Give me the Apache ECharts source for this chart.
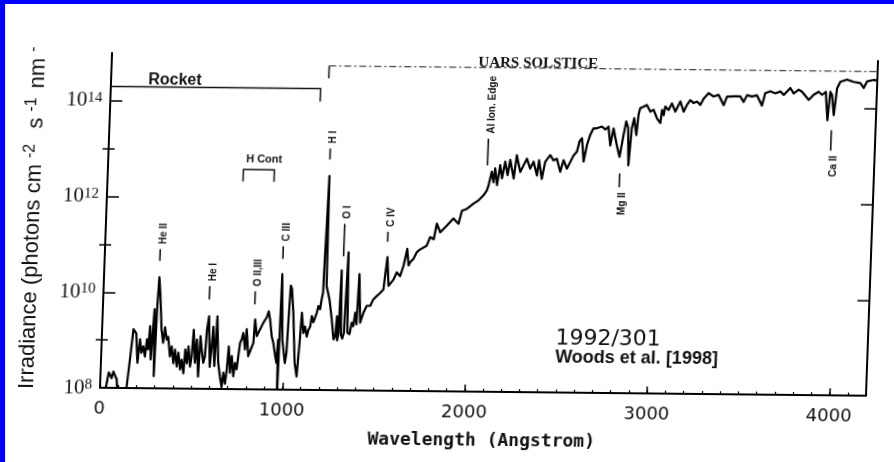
<!DOCTYPE html>
<html>
<head>
<meta charset="utf-8">
<script src="https://cdn.jsdelivr.net/npm/echarts@6/dist/echarts.min.js"></script>
<style>
  html, body { margin: 0; padding: 0; background: #fff; }
  #frame { position: relative; width: 894px; height: 462px; overflow: hidden; background: #fff; }
  /* the printed figure sits slightly skewed on the page */
  #chart { position: absolute; left: 0; top: 0; width: 894px; height: 462px;
           transform-origin: 100px 388px; transform: matrix(1, 0.0104, -0.036, 1, 0, 0); }
  .edge { position: absolute; background: #0000ff; z-index: 5; }
</style>
</head>
<body>
<div id="frame">
  <div id="chart"></div>
  <div class="edge" style="left:0;top:0;width:894px;height:4px"></div>
  <div class="edge" style="left:0;top:0;width:5px;height:462px"></div>
</div>
<script>
// Solar spectral irradiance, day 1992/301 (Angstrom, photons cm^-2 s^-1 nm^-1)
const wavelength = [
  20, 35, 45, 55, 62, 70, 80, 90, 98, 140,
  146, 160, 172, 188, 200, 210, 220, 229, 240, 248,
  256, 263, 272, 284, 292, 298, 304, 312, 326, 337,
  345, 356, 364, 377, 385, 397, 404, 416, 423, 435,
  442, 454, 460, 471, 477, 489, 496, 503, 515, 522,
  535, 541, 550, 561, 569, 575, 584, 597, 604, 610,
  622, 630, 643, 655, 666, 673, 684, 691, 698, 709,
  716, 728, 735, 745, 752, 759, 767, 775, 787, 793,
  806, 832, 837, 849, 866, 883, 900, 910, 919, 931,
  941, 954, 962, 967, 971, 977, 990, 1008, 1015, 1021,
  1026, 1033, 1045, 1062, 1075, 1085, 1092, 1104, 1112, 1123,
  1131, 1140, 1147, 1157, 1174, 1181, 1191, 1198, 1204, 1207,
  1211, 1216, 1222, 1240, 1257, 1270, 1279, 1285, 1290, 1296,
  1302, 1310, 1318, 1326, 1336, 1345, 1357, 1367, 1376, 1384,
  1393, 1400, 1413, 1429, 1446, 1465, 1481, 1499, 1517, 1534,
  1550, 1561, 1570, 1587, 1604, 1623, 1640, 1657, 1667, 1675,
  1693, 1710, 1725, 1763, 1780, 1800, 1814, 1834, 1869, 1904,
  1933, 1949, 1976, 2011, 2038, 2064, 2081, 2089, 2105, 2116,
  2123, 2136, 2150, 2162, 2177, 2192, 2204, 2226, 2239, 2261,
  2278, 2295, 2315, 2332, 2353, 2362, 2380, 2396, 2422, 2441,
  2459, 2480, 2496, 2516, 2533, 2550, 2568, 2580, 2593, 2606,
  2621, 2638, 2654, 2672, 2700, 2719, 2736, 2749, 2764, 2785,
  2802, 2820, 2832, 2844, 2852, 2864, 2875, 2890, 2898, 2906,
  2924, 2942, 2962, 2980, 3000, 3019, 3026, 3036, 3043, 3062,
  3079, 3099, 3125, 3145, 3162, 3179, 3198, 3216, 3235, 3252,
  3278, 3306, 3333, 3363, 3379, 3416, 3452, 3471, 3489, 3516,
  3543, 3573, 3588, 3616, 3644, 3671, 3690, 3725, 3744, 3771,
  3789, 3828, 3854, 3881, 3900, 3920, 3934, 3945, 3955, 3968,
  3981, 3998, 4034, 4071, 4108, 4127, 4144, 4180, 4200
];
const irradiance = [
  6e7, 1.2e8, 2.1e8, 2.2e8, 1.6e8, 2.2e8, 2.0e8, 1.5e8, 6e7, 6e7,
  1.1e8, 4.6e8, 1.7e9, 1.4e9, 3.4e8, 1.05e9, 5.5e8, 7.5e8, 4.6e8, 1.05e9,
  6.5e8, 2.0e9, 4.0e8, 4.5e9, 1.8e8, 5.2e9, 2.1e10, 1.0e10, 1.7e9, 9.0e8,
  1.9e9, 1.05e9, 1.2e9, 4.7e8, 7.6e8, 3.4e8, 6.5e8, 2.9e8, 5.6e8, 2.5e8,
  4.0e8, 2.1e8, 6.6e8, 3.4e8, 7.7e8, 2.9e8, 4.7e8, 1.7e9, 3.5e8, 1.07e9,
  1.8e8, 1.26e9, 6.6e8, 3.5e8, 4.8e8, 1.7e9, 3.3e9, 2.9e8, 7.8e8, 2.0e9,
  3.0e8, 3.3e9, 3.5e8, 1.8e8, 1.1e8, 2.2e8, 1.3e8, 2.5e8, 7.8e8, 2.2e8,
  4.9e8, 1.85e8, 3.5e8, 2.6e8, 4.9e8, 9.3e8, 1.1e9, 1.5e9, 6.8e8, 1.8e9,
  4.9e8, 9.4e8, 2.9e9, 1.3e9, 1.8e9, 2.5e9, 3.2e9, 4.3e9, 2.9e9, 1.3e9,
  9.5e8, 5.0e8, 3.6e8, 1.1e9, 6e7, 2.6e10, 1.1e9, 3.6e8, 5.9e8, 4.1e9,
  1.5e10, 1.3e10, 4.1e9, 3.6e8, 1.9e8, 9.6e8, 4.1e9, 1.55e9, 2.1e9, 1.3e9,
  1.8e9, 2.1e9, 3.5e9, 2.6e9, 4.2e9, 5.7e9, 4.9e9, 8.0e9, 1.1e10, 5.5e10,
  2.8e11, 3.0e12, 1.5e10, 8.0e9, 3.0e9, 1.15e9, 1.35e9, 3.5e9, 1.1e9, 1.6e9,
  3.2e10, 1.4e9, 1.2e9, 1.6e9, 7.6e10, 1.6e9, 1.5e9, 2.6e9, 2.2e9, 4.2e9,
  2.4e9, 2.7e10, 2.6e9, 4.2e9, 5.9e9, 5.9e9, 8.1e9, 9.5e9, 1.1e10, 1.3e10,
  6.2e10, 1.55e10, 1.7e10, 2.1e10, 3.0e10, 2.5e10, 4.2e10, 9.3e10, 4.2e10, 4.9e10,
  5.8e10, 8.0e10, 9.0e10, 1.1e11, 1.66e11, 1.5e11, 3.2e11, 2.1e11, 2.9e11, 4.1e11,
  3.2e11, 6.0e11, 6.6e11, 8.5e11, 1.0e12, 1.27e12, 1.6e12, 2.0e12, 4.0e12, 2.4e12,
  4.7e12, 2.1e12, 5.5e12, 2.9e12, 6.5e12, 3.4e12, 7.1e12, 2.9e12, 8.9e12, 4.0e12,
  5.5e12, 7.6e12, 4.7e12, 6.6e12, 3.4e12, 7.1e12, 2.9e12, 6.6e12, 9.1e12, 7.1e12,
  7.7e12, 4.1e12, 7.2e12, 4.8e12, 6.6e12, 9.1e12, 1.1e13, 1.8e13, 2.1e13, 6.8e12,
  1.5e13, 2.5e13, 3.4e13, 3.4e13, 3.7e13, 3.2e13, 3.7e13, 1.5e13, 3.4e13, 1.5e13,
  8.7e12, 2.5e13, 4.8e13, 3.5e13, 5.8e12, 3.5e13, 5.6e13, 2.5e13, 6.6e13, 9.1e13,
  9.8e13, 1.07e14, 7.8e13, 8.5e13, 5.6e13, 4.5e13, 8.5e13, 6.6e13, 1.0e14, 8.5e13,
  1.17e14, 7.9e13, 1.29e14, 7.9e13, 1.1e14, 1.38e14, 1.2e14, 1.29e14, 1.1e14, 1.5e14,
  1.95e14, 1.66e14, 1.8e14, 1.1e14, 1.66e14, 1.7e14, 1.7e14, 1.3e14, 1.8e14, 1.7e14,
  1.8e14, 1.1e14, 2.0e14, 2.2e14, 2.0e14, 2.2e14, 1.86e14, 2.6e14, 2.0e14, 2.4e14,
  2.2e14, 1.48e14, 1.9e14, 2.2e14, 1.9e14, 2.2e14, 5.6e13, 2.2e14, 1.9e14, 7.2e13,
  2.6e14, 3.6e14, 4.0e14, 3.6e14, 3.4e14, 2.7e14, 3.7e14, 4.0e14, 3.9e14
];

// axis ticks
const xTickValues = [0, 1000, 2000, 3000, 4000];
const yLabelValues = [1e8, 1e10, 1e12, 1e14];
const yMinorValues = [1e9, 1e11, 1e13, 1e15];

// identified lines: wavelength and the span of the pointer stroke
const lineLabels = ['He II', 'He I', 'O II,III', 'C III', 'H I', 'O I', 'C IV', 'Al Ion. Edge', 'Mg II', 'Ca II'];
const lineWavelengths = [303, 582, 832, 977, 1215, 1309, 1548, 2080, 2806, 3958];
const markerLow = [4.6e10, 7.4e9, 6.0e9, 5.4e10, 6.6e12, 6.3e10, 1.3e11, 5.4e12, 2.0e12, 1.3e13];
const markerHigh = [8.1e10, 1.4e10, 1.12e10, 1.0e11, 1.12e13, 3.0e11, 2.1e11, 1.95e13, 3.9e12, 3.5e13];
const labelsBelow = ['Mg II', 'Ca II'];

// instrument coverage and the hydrogen continuum
const rocketRange = [0, 1150];
const rocketLevel = 2.0e14;
const rocketFoot = 1.07e14;
const rocketLabelAt = 350;
const solsticeRange = [1193, 4200];
const solsticeLevel = 6.0e14;
const solsticeFoot = 3.3e14;
const solsticeLabelAt = 2338;
const hContRange = [743, 913];
const hContLevel = 3.9e12;
const hContFoot = 2.2e12;
const hContLabelAt = 855;

// caption anchors
const captionAt = [2486, 1.3e9];
const creditAt = [2489, 5.5e8];

const ink = '#111';
const chart = echarts.init(document.getElementById('chart'), null, { renderer: 'canvas' });

function expLabel(v) {
  return '{b|10}{s|' + Math.round(Math.log10(v)) + '}';
}

const serif = '"Liberation Serif", "Times New Roman", serif';
const yAxisBase = {
  type: 'log', logBase: 10, min: 1e8, max: 1e15,
  splitLine: { show: false }, minorTick: { show: false }
};

const option = {
  animation: false,
  backgroundColor: 'transparent',
  grid: { left: 100, top: 53, width: 766, height: 335 },
  xAxis: [
    {
      type: 'value', min: 0, max: 4200, interval: 1000, position: 'bottom',
      axisLine: { show: true, onZero: false, lineStyle: { color: '#000', width: 2 } },
      axisTick: { show: true, inside: true, length: 7, customValues: xTickValues, lineStyle: { color: '#000', width: 1.5 } },
      axisLabel: { customValues: xTickValues, formatter: v => String(v), color: ink,
                   fontFamily: '"DejaVu Sans", sans-serif', fontSize: 18, margin: 12 },
      splitLine: { show: false },
      name: 'Wavelength (Angstrom)', nameLocation: 'middle', nameGap: 40,
      nameTextStyle: { color: ink, fontFamily: '"DejaVu Sans Mono", monospace', fontWeight: 'bold', fontSize: 18 }
    },
    {
      type: 'value', min: 0, max: 4200, interval: 100, position: 'bottom',
      axisLine: { show: false },
      axisTick: { show: true, inside: true, length: 3, lineStyle: { color: '#000', width: 1.2 } },
      axisLabel: { show: false }, splitLine: { show: false }
    }
  ],
  yAxis: [
    Object.assign({}, yAxisBase, {
      position: 'left',
      axisLine: { show: true, onZero: false, lineStyle: { color: '#000', width: 2 } },
      axisTick: { show: true, inside: true, length: 12, customValues: yLabelValues, lineStyle: { color: '#000', width: 1.5 } },
      axisLabel: {
        customValues: yLabelValues, margin: 8, formatter: expLabel,
        rich: {
          b: { fontFamily: serif, fontSize: 21, color: ink, lineHeight: 21, verticalAlign: 'bottom' },
          s: { fontFamily: serif, fontSize: 15, color: ink, lineHeight: 15, verticalAlign: 'top', padding: [0, 0, 12, 0] }
        }
      }
    }),
    Object.assign({}, yAxisBase, {
      position: 'left',
      axisLine: { show: false },
      axisTick: { show: true, inside: true, length: 6, customValues: yMinorValues, lineStyle: { color: '#000', width: 1.5 } },
      axisLabel: { show: false }
    }),
    Object.assign({}, yAxisBase, {
      position: 'right',
      axisLine: { show: true, onZero: false, lineStyle: { color: '#000', width: 2 } },
      axisTick: { show: true, inside: true, length: 12, customValues: yLabelValues, lineStyle: { color: '#000', width: 1.5 } },
      axisLabel: { show: false }
    }),
    Object.assign({}, yAxisBase, {
      position: 'right',
      axisLine: { show: false },
      axisTick: { show: true, inside: true, length: 6, customValues: yMinorValues, lineStyle: { color: '#000', width: 1.5 } },
      axisLabel: { show: false }
    })
  ],
  series: [{
    name: 'Irradiance',
    type: 'line',
    xAxisIndex: 0, yAxisIndex: 0,
    data: wavelength.map((w, i) => [w, irradiance[i]]),
    showSymbol: false, symbol: 'none', clip: true,
    lineStyle: { color: '#000', width: 2.2, join: 'round' }
  }]
};

chart.setOption(option);

function toPx(x, v) {
  return chart.convertToPixel({ xAxisIndex: 0, yAxisIndex: 0 }, [x, v]);
}

function textEl(x, y, text, font, align, vAlign, rotation) {
  return {
    type: 'text', x: x, y: y, rotation: rotation || 0, silent: true, z: 10,
    style: { text: text, font: font, fill: ink, align: align, textAlign: align,
             verticalAlign: vAlign, textVerticalAlign: vAlign }
  };
}

const graphics = [];

// pointers and names of the spectral features
lineLabels.forEach((name, i) => {
  const lo = toPx(lineWavelengths[i], markerLow[i]);
  const hi = toPx(lineWavelengths[i], markerHigh[i]);
  graphics.push({ type: 'line', silent: true, z: 10,
    shape: { x1: lo[0], y1: lo[1], x2: hi[0], y2: hi[1] },
    style: { stroke: ink, lineWidth: 1.6 } });
  const below = labelsBelow.indexOf(name) >= 0;
  graphics.push(textEl(lo[0] + 3, below ? lo[1] + 5 : hi[1] - 5, name,
    'bold 10px "Liberation Sans", Arial, sans-serif', below ? 'right' : 'left', 'middle', Math.PI / 2));
});

// rocket coverage bracket
const r0 = toPx(rocketRange[0], rocketLevel);
const r1 = toPx(rocketRange[1], rocketLevel);
const r2 = toPx(rocketRange[1], rocketFoot);
graphics.push({ type: 'polyline', silent: true, z: 10,
  shape: { points: [r0, r1, r2] }, style: { stroke: ink, lineWidth: 1.5, fill: null } });
const rl = toPx(rocketLabelAt, rocketLevel);
graphics.push(textEl(rl[0], rl[1] + 1, 'Rocket', 'bold 16px "Liberation Sans", Arial, sans-serif', 'center', 'bottom'));

// SOLSTICE coverage
const s0 = toPx(solsticeRange[0], solsticeFoot);
const s1 = toPx(solsticeRange[0], solsticeLevel);
const s2 = toPx(solsticeRange[1], solsticeLevel);
graphics.push({ type: 'line', silent: true, z: 10,
  shape: { x1: s0[0], y1: s0[1], x2: s1[0], y2: s1[1] }, style: { stroke: ink, lineWidth: 1.5 } });
graphics.push({ type: 'line', silent: true, z: 10,
  shape: { x1: s1[0], y1: s1[1], x2: s2[0], y2: s2[1] },
  style: { stroke: '#444', lineWidth: 1.2, lineDash: [7, 3, 2, 3] } });
const sl = toPx(solsticeLabelAt, solsticeLevel);
graphics.push(textEl(sl[0], sl[1] + 3, 'UARS SOLSTICE', 'bold 15px "Liberation Serif", serif', 'center', 'bottom'));

// hydrogen continuum bracket
const h0 = toPx(hContRange[0], hContFoot);
const h1 = toPx(hContRange[0], hContLevel);
const h2 = toPx(hContRange[1], hContLevel);
const h3 = toPx(hContRange[1], hContFoot);
graphics.push({ type: 'polyline', silent: true, z: 10,
  shape: { points: [h0, h1, h2, h3] }, style: { stroke: ink, lineWidth: 1.5, fill: null } });
const hl = toPx(hContLabelAt, hContLevel);
graphics.push(textEl(hl[0], hl[1] - 5, 'H Cont', 'bold 11px "Liberation Sans", Arial, sans-serif', 'center', 'bottom'));

// caption
const c1 = toPx(captionAt[0], captionAt[1]);
graphics.push(textEl(c1[0], c1[1], '1992/301', '22px "DejaVu Sans", sans-serif', 'left', 'middle'));
const c2 = toPx(creditAt[0], creditAt[1]);
graphics.push(textEl(c2[0], c2[1], 'Woods et al. [1998]', 'bold 18px "Liberation Sans", Arial, sans-serif', 'left', 'middle'));

// vertical axis title with exponents
graphics.push({
  type: 'text', x: 26, y: 390, rotation: Math.PI / 2, silent: true, z: 10,
  style: {
    text: '{a|Irradiance (photons cm}{s|-2}{a|  s}{s|-1}{a| nm}{s|-}',
    align: 'left', textAlign: 'left', verticalAlign: 'middle', textVerticalAlign: 'middle',
    rich: {
      a: { fontFamily: '"Liberation Sans", Arial, sans-serif', fontSize: 22, fill: ink, lineHeight: 24, verticalAlign: 'bottom' },
      s: { fontFamily: '"Liberation Sans", Arial, sans-serif', fontSize: 16, fill: ink, lineHeight: 16, verticalAlign: 'top', padding: [0, 3, 11, 6] }
    }
  }
});

chart.setOption({ graphic: { elements: graphics } });
</script>
</body>
</html>
